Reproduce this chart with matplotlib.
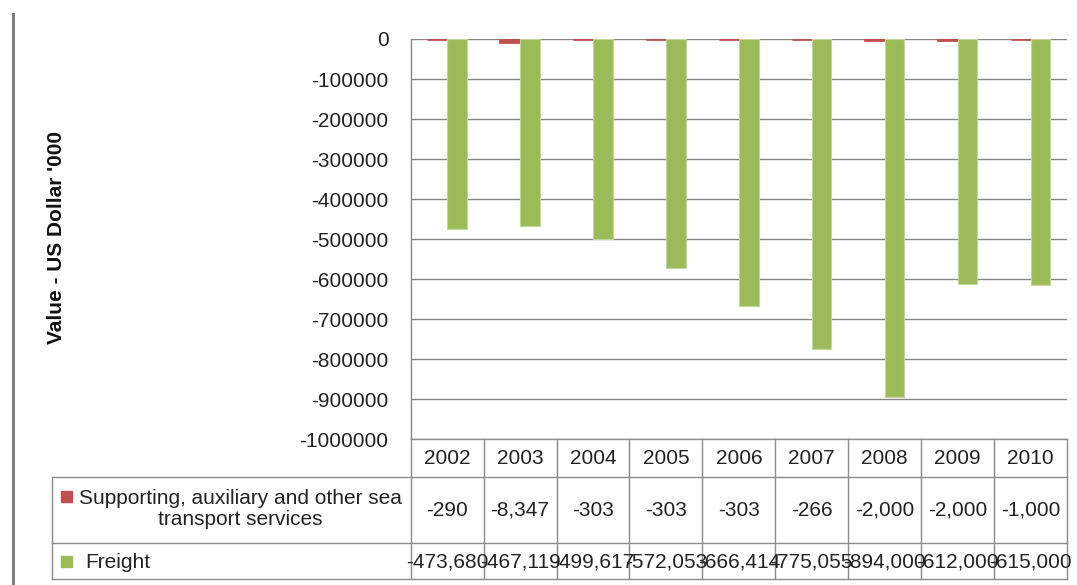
import numpy as np
import matplotlib.pyplot as plt
from matplotlib.patches import Rectangle
from matplotlib.lines import Line2D
import matplotlib.transforms as mtransforms

years = ['2002', '2003', '2004', '2005', '2006', '2007', '2008', '2009', '2010']
supporting = [-290, -8347, -303, -303, -303, -266, -2000, -2000, -1000]
freight = [-473680, -467119, -499617, -572053, -666414, -775055, -894000, -612000, -615000]
series_names = ['Supporting, auxiliary and other sea\ntransport services', 'Freight']

red = '#C0504D'
green = '#9BBB59'
grey = '#8C8C8C'

plt.rcParams['font.family'] = ['Liberation Sans', 'DejaVu Sans']

W, H = 1077, 585
fig = plt.figure(figsize=(W / 100, H / 100), dpi=100)


def fx(px):
    return px / W


def fy(py):
    return 1 - py / H


ax = fig.add_axes([fx(410.7), fy(439.3), fx(1067) - fx(410.7), fy(39) - fy(439.3)])

x = np.arange(len(years))
bw = 0.27
ax.bar(x - bw / 2, supporting, bw, color=red, edgecolor=red, linewidth=2.0, zorder=3)
ax.bar(x + bw / 2, freight, bw, color=green, edgecolor='#C3D69B', linewidth=0.8, zorder=4)

ax.set_xlim(-0.5, len(years) - 0.5)
ax.set_ylim(-1000000, 0)
ax.set_yticks(np.arange(-1000000, 1, 100000))
ax.set_yticklabels([str(v) for v in np.arange(-1000000, 1, 100000)])
ax.set_xticks([])
ax.tick_params(axis='y', length=0, pad=16, labelsize=15, labelcolor='#222222')
ax.yaxis.grid(True, color='#868686', linewidth=1.0, zorder=0)
for s in ['top', 'right', 'bottom']:
    ax.spines[s].set_visible(False)
ax.spines['left'].set_color('#868686')
ax.spines['left'].set_linewidth(1.0)

fig.text(fx(57), fy(238), "Value - US Dollar '000", rotation=90, ha='center', va='center',
         fontsize=15, fontweight='bold', color='#111111')

# data table below the plot
trans = mtransforms.blended_transform_factory(ax.transData, fig.transFigure)
y_head_top, y_head_bot, y_r1_bot, y_r2_bot = 439.3, 476.7, 542.7, 579.3
x_left_px = 51.7

lkw = dict(color=grey, linewidth=1.0, clip_on=False)
for b in np.arange(-0.5, len(years), 1.0):
    ax.add_line(Line2D([b, b], [fy(y_head_top), fy(y_r2_bot)], transform=trans, **lkw))
ax.add_line(Line2D([-0.5, len(years) - 0.5], [fy(y_head_top)] * 2, transform=trans, **lkw))
for yy in [y_head_bot, y_r1_bot, y_r2_bot]:
    fig.add_artist(Line2D([fx(x_left_px), fx(1067)], [fy(yy)] * 2, transform=fig.transFigure,
                          color=grey, linewidth=1.0))
fig.add_artist(Line2D([fx(x_left_px)] * 2, [fy(y_head_bot), fy(y_r2_bot)], transform=fig.transFigure,
                      color=grey, linewidth=1.0))

tkw = dict(fontsize=15, color='#222222', ha='center', va='center', transform=trans, clip_on=False)
for i, yr in enumerate(years):
    ax.text(i, fy(459), yr, **tkw)
    ax.text(i, fy(510), f'{supporting[i]:,}', **tkw)
    ax.text(i, fy(562), f'{freight[i]:,}', **tkw)

# row labels with colour keys
fig.add_artist(Rectangle((fx(60.5), fy(501.5)), fx(11), fy(490.5) - fy(501.5), color=red,
                         transform=fig.transFigure))
fig.add_artist(Rectangle((fx(60.5), fy(566.5)), fx(11), fy(555.5) - fy(566.5), color=green,
                         transform=fig.transFigure))
fig.text(fx(240.5), fy(509), series_names[0], ha='center', va='center', fontsize=15,
         color='#222222', multialignment='center', linespacing=1.1)
fig.text(fx(85), fy(562), series_names[1], ha='left', va='center', fontsize=15, color='#222222')

# chart-area frame on the left
fig.add_artist(Line2D([fx(13), fx(13)], [fy(14), fy(585)], transform=fig.transFigure,
                      color='#808080', linewidth=2.2))

fig.savefig('out.png', dpi=100)
